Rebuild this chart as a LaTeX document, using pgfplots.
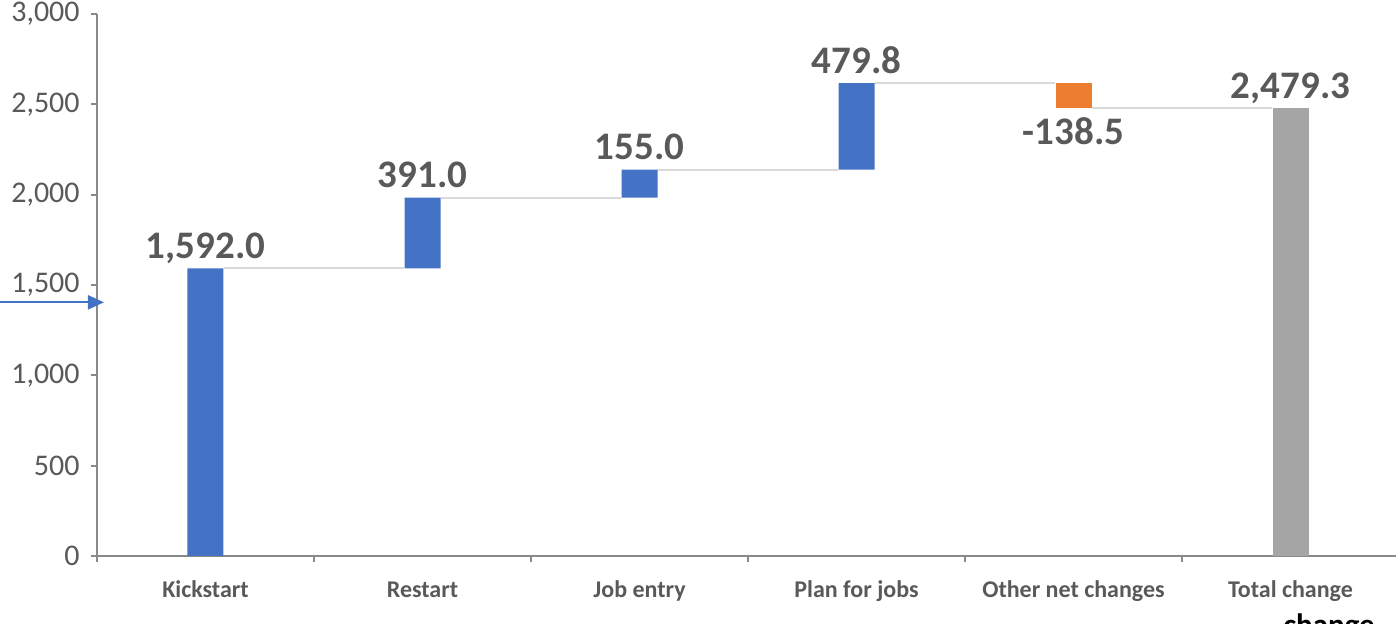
\documentclass[border=0pt]{standalone}
\usepackage{pgfplots}
\pgfplotsset{compat=1.18}
\usepackage{fontspec}
\setmainfont{Carlito}
\usetikzlibrary{arrows.meta}
\definecolor{cblue}{HTML}{4472C4}
\definecolor{corange}{HTML}{ED7D31}
\definecolor{cgray}{HTML}{A5A5A5}
\definecolor{cconn}{HTML}{D9D9D9}
\definecolor{caxis}{HTML}{898989}
\definecolor{ctext}{HTML}{595959}
\begin{document}
\begin{tikzpicture}
\begin{axis}[
  at={(0,0)}, anchor=south west,
  scale only axis, width=651pt, height=271pt,
  xmin=-0.5, xmax=5.5, ymin=0, ymax=3000,
  axis x line=bottom, axis y line=left,
  axis line style={-, draw=caxis, line width=0.9pt},
  ytick={0,500,...,3000},
  yticklabel style={font=\fontsize{15}{15}\selectfont, text=ctext, inner sep=0pt, anchor=east, xshift=-5.5pt},
  /pgf/number format/assume math mode=true,
  /pgf/number format/1000 sep={,},
  xtick={0,...,5},
  xticklabels={Kickstart,Restart,Job entry,Plan for jobs,Other net changes,Total change},
  xticklabel style={font=\fontsize{12}{12}\bfseries\selectfont, text=ctext, inner sep=0pt, anchor=base, yshift=-18pt},
  major x tick style={draw=none},
  minor xtick={-0.5,0.5,1.5,2.5,3.5,4.5},
  minor tick length=3pt,
  minor x tick style={draw=caxis, line width=0.9pt},
  major tick length=3pt,
  major y tick style={draw=caxis, line width=0.9pt},
  tick align=outside,
  ybar stacked, bar width=18pt,
  clip=false,
]
\addplot[draw=none, fill=none] coordinates {(0,0) (1,1592) (2,1983) (3,2138) (4,2479.3) (5,0)};
\addplot[draw=none, fill=cblue] coordinates {(0,1592) (1,391) (2,155) (3,479.8) (4,0) (5,0)};
\addplot[draw=none, fill=corange] coordinates {(0,0) (1,0) (2,0) (3,0) (4,138.5) (5,0)};
\addplot[draw=none, fill=cgray] coordinates {(0,0) (1,0) (2,0) (3,0) (4,0) (5,2479.3)};
\end{axis}
\begin{axis}[
  at={(0,0)}, anchor=south west,
  scale only axis, width=651pt, height=271pt,
  xmin=-0.5, xmax=5.5, ymin=0, ymax=3000,
  hide axis, clip=false,
]
\addplot[cconn, line width=1pt] coordinates {(0.083,1592) (0.917,1592)};
\addplot[cconn, line width=1pt] coordinates {(1.083,1983) (1.917,1983)};
\addplot[cconn, line width=1pt] coordinates {(2.083,2138) (2.917,2138)};
\addplot[cconn, line width=1pt] coordinates {(3.083,2617.8) (3.917,2617.8)};
\addplot[cconn, line width=1pt] coordinates {(4.083,2479.3) (4.917,2479.3)};
\begin{scope}[every node/.style={font=\fontsize{19.5}{19.5}\bfseries\selectfont, text=ctext, inner sep=0pt, anchor=base}]
\node[yshift=5pt] at (axis cs:0,1592) {1,592.0};
\node[yshift=5pt] at (axis cs:1,1983) {391.0};
\node[yshift=5pt] at (axis cs:2,2138) {155.0};
\node[yshift=5pt] at (axis cs:3,2617.8) {479.8};
\node[yshift=-18pt] at (axis cs:4,2479.3) {-138.5};
\node[yshift=5pt] at (axis cs:5,2479.3) {2,479.3};
\end{scope}
\draw[cblue, line width=1pt, -{Triangle[length=8pt,width=7pt]}] ([xshift=-48.5pt]axis cs:-0.5,1404) -- ([xshift=3.5pt]axis cs:-0.5,1404);
\end{axis}
\node[font=\fontsize{15.5}{15.5}\bfseries\selectfont, inner sep=0pt, anchor=base] at (616pt,-40pt) {change};
\pgfresetboundingbox
\useasboundingbox (-48.5pt,-34pt) rectangle (649.5pt,278pt);
\end{tikzpicture}
\end{document}
